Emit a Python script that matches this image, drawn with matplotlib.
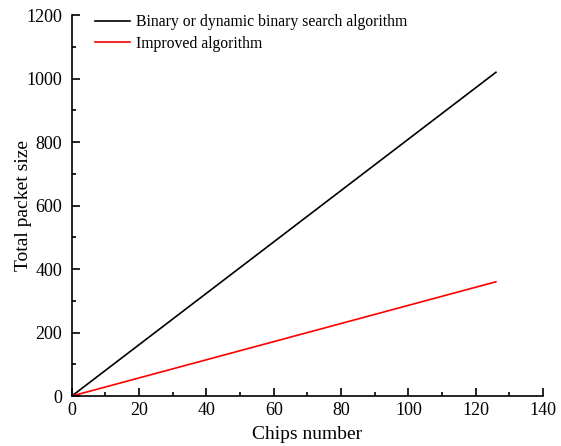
import matplotlib
matplotlib.use("Agg")
import matplotlib.pyplot as plt
from matplotlib.ticker import MultipleLocator

chips = [0, 126]
binary_size = [0, 1020]
improved_size = [0, 360]

plt.rcParams['font.family'] = ['Liberation Serif', 'DejaVu Serif']

fig = plt.figure(figsize=(5.61, 4.46), dpi=100)
ax = fig.add_axes([0.128, 0.112, 0.84, 0.854])

ax.plot(chips, binary_size, color='black', lw=1.2, label='Binary or dynamic binary search algorithm')
ax.plot(chips, improved_size, color='red', lw=1.2, label='Improved algorithm')

ax.set_xlim(0, 140)
ax.set_ylim(0, 1200)
ax.xaxis.set_major_locator(MultipleLocator(20))
ax.xaxis.set_minor_locator(MultipleLocator(10))
ax.yaxis.set_major_locator(MultipleLocator(200))
ax.yaxis.set_minor_locator(MultipleLocator(100))
ax.tick_params(which='both', direction='in', labelsize=13, width=1.2)
ax.tick_params(which='major', length=6)
ax.tick_params(which='minor', length=3)
ax.tick_params(axis='y', pad=7)
ax.tick_params(axis='x', pad=4)
ax.spines['top'].set_visible(False)
ax.spines['right'].set_visible(False)
ax.spines['left'].set_linewidth(1.2)
ax.spines['bottom'].set_linewidth(1.2)

ax.set_xlabel('Chips number', fontsize=14, labelpad=5)
ax.set_ylabel('Total packet size', fontsize=14, labelpad=-4)
ax.legend(loc='upper left', frameon=False, fontsize=11.3, handlelength=2.2,
          handletextpad=0.4, bbox_to_anchor=(0.02, 1.04), labelspacing=0.35)

fig.savefig('out.png', dpi=100)
